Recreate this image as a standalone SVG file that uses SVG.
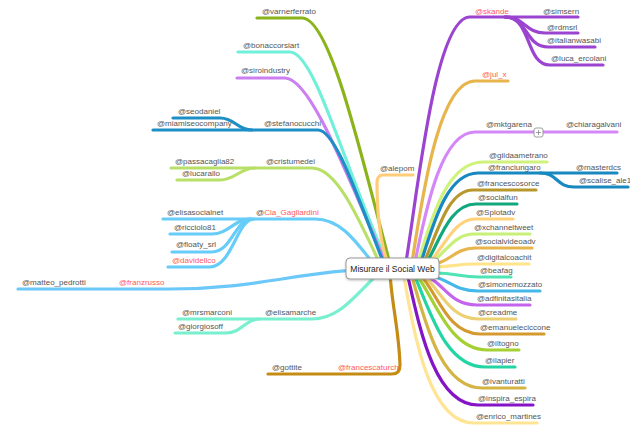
<svg xmlns="http://www.w3.org/2000/svg" width="630" height="432" viewBox="0 0 630 432">
<style>
.c{fill:none;stroke-width:3.2;stroke-linecap:round;stroke-linejoin:round}
text{font-family:"Liberation Sans",Arial,sans-serif;font-size:8px;fill:#555}
.r{fill:#ff5a5a}
.center{font-size:8.5px;fill:#222;text-anchor:middle}
</style>
<defs>
<filter id="sh" x="-10%" y="-20%" width="120%" height="150%"><feDropShadow dx="0" dy="1" stdDeviation="1" flood-color="#000" flood-opacity="0.25"/></filter>
</defs>
<rect width="630" height="432" fill="#fff"/>
<g id="connectors">
<path class="c" stroke="#8ab41a" d="M257 18H302C330 18 360 150 390 264"/>
<path class="c" stroke="#70f0d8" d="M238 52H290C315 52 345 170 388 264"/>
<path class="c" stroke="#cc7ff0" d="M237 78H285C310 78 345 170 386 264"/>
<path class="c" stroke="#1e8fc6" d="M153 130H318C335 130 355 190 384 264"/>
<path class="c" stroke="#1e8fc6" d="M173 118H220C235 118 237 130 252 130"/>
<path class="c" stroke="#b8e068" d="M171 168H312C335 168 355 210 380 264"/>
<path class="c" stroke="#b8e068" d="M177 180H220C235 180 240 168 255 168"/>
<path class="c" stroke="#66ccf8" d="M163 219H315C340 219 355 240 372 262"/>
<path class="c" stroke="#66ccf8" d="M170 234H212C228 234 235 219 250 219"/>
<path class="c" stroke="#66ccf8" d="M172 252H212C232 252 235 219 252 219"/>
<path class="c" stroke="#66ccf8" d="M168 267H210C232 267 237 219 254 219"/>
<path class="c" stroke="#6cc8f8" d="M18 289H170C260 289 300 270 392 268"/>
<path class="c" stroke="#78f0d0" d="M178 319H312C340 319 355 295 380 272"/>
<path class="c" stroke="#78f0d0" d="M175 333H226C242 333 245 319 260 319"/>
<path class="c" stroke="#c48c14" d="M268 374H392Q400 374 400 365C399 330 391 300 390 272"/>
<path class="c" stroke="#ffcc7a" d="M413 175H383Q377 175 377 183C377 225 383 250 388 264"/>
<path class="c" stroke="#9b44d0" d="M406 262C418 190 435 17 470 17H578"/>
<path class="c" stroke="#9b44d0" d="M505 17C525 17 525 33 545 33H578"/>
<path class="c" stroke="#9b44d0" d="M505 17C528 17 525 47 548 47H595"/>
<path class="c" stroke="#9b44d0" d="M505 17C532 17 525 65 550 65H603"/>
<path class="c" stroke="#e8b44c" d="M412 262C422 200 438 81 475 81H508"/>
<path class="c" stroke="#d488f8" d="M415 262C425 215 440 132 475 132H617"/>
<path class="c" stroke="#cef27a" d="M418 262C430 225 445 162 483 162H547"/>
<path class="c" stroke="#1888c0" d="M421 262C432 230 445 173 478 173H617"/>
<path class="c" stroke="#1888c0" d="M540 173C558 173 556 187 574 187H628"/>
<path class="c" stroke="#b8982c" d="M424 262C437 235 447 190 473 190H536"/>
<path class="c" stroke="#10a87c" d="M427 262C440 240 450 204 476 204H517"/>
<path class="c" stroke="#ffd27a" d="M430 262C445 245 455 219 475 219H513"/>
<path class="c" stroke="#c8f078" d="M432 262C448 250 455 234 474 234H530"/>
<path class="c" stroke="#e8b44c" d="M434 264C450 262 455 248 475 248H532"/>
<path class="c" stroke="#ffe48a" d="M436 267C455 266 460 264 475 264H529"/>
<path class="c" stroke="#4ee4b4" d="M436 273C455 273 460 277 479 277H511"/>
<path class="c" stroke="#44b8e8" d="M432 276C450 280 455 291 478 291H540"/>
<path class="c" stroke="#c464ec" d="M428 277C445 285 450 305 477 305H530"/>
<path class="c" stroke="#ecd074" d="M425 277C440 290 450 319 478 319H516"/>
<path class="c" stroke="#d49a30" d="M422 277C438 295 448 334 480 334H544"/>
<path class="c" stroke="#a4d034" d="M418 277C435 300 450 350 487 350H519"/>
<path class="c" stroke="#24d4a4" d="M415 277C430 310 445 367 485 367H515"/>
<path class="c" stroke="#d4b444" d="M412 277C425 320 440 388 482 388H525"/>
<path class="c" stroke="#8414c4" d="M408 277C420 330 435 405 478 405H533"/>
<path class="c" stroke="#ffe494" d="M404 277C415 340 430 423 474 423H537"/>
</g>
<g id="center">
<rect x="346" y="258" width="93" height="21" rx="4" fill="#fff" stroke="#999" filter="url(#sh)"/>
<text class="center" x="392.5" y="271.5">Misurare il Social Web</text>
</g>
<g id="collapse">
<rect x="534" y="128" width="9" height="9" rx="2" fill="#fff" stroke="#888" stroke-width="0.8"/>
<path d="M536 132.5H541M538.5 130V135" stroke="#888" stroke-width="0.8"/>
</g>
<g id="labels" transform="translate(0,-1)">
<g id="n-varnerferrato"><text x="262" y="15">@varnerferrato</text></g>
<g id="n-bonaccorsiart"><text x="243" y="49">@bonaccorsiart</text></g>
<g id="n-siroindustry"><text x="241" y="74">@siroindustry</text></g>
<g id="n-stefanocucchi"><text x="264" y="127">@stefanocucchi</text></g>
<g id="n-miamiseocompany"><text x="157" y="127">@miamiseocompany</text></g>
<g id="n-seodaniel"><text x="178" y="115">@seodaniel</text></g>
<g id="n-cristumedei"><text x="266" y="165">@cristumedei</text></g>
<g id="n-passacaglia82"><text x="175" y="165">@passacaglia82</text></g>
<g id="n-lucarallo"><text x="182" y="177">@lucarallo</text></g>
<g id="n-cla"><text x="256" y="216">@<tspan class="r">Cla_Gagliardini</tspan></text></g>
<g id="n-elisasocialnet"><text x="167" y="216">@elisasocialnet</text></g>
<g id="n-ricciolo81"><text x="174" y="231">@ricciolo81</text></g>
<g id="n-floaty"><text x="176" y="248">@floaty_srl</text></g>
<g id="n-davidelico"><text class="r" x="172" y="264">@davidelico</text></g>
<g id="n-matteo"><text x="22" y="286">@matteo_pedrotti</text></g>
<g id="n-franzrusso"><text class="r" x="119" y="286">@franzrusso</text></g>
<g id="n-elisamarche"><text x="265" y="316">@elisamarche</text></g>
<g id="n-mrsmarconi"><text x="182" y="316">@mrsmarconi</text></g>
<g id="n-giorgiosoff"><text x="178" y="330">@giorgiosoff</text></g>
<g id="n-gottite"><text x="272" y="371">@gottite</text></g>
<g id="n-francescaturchi"><text class="r" x="338" y="371">@francescaturchi</text></g>
<g id="n-alepom"><text x="380" y="172">@alepom</text></g>
<g id="n-skande"><text class="r" x="475" y="15">@skande</text></g>
<g id="n-simsern"><text x="543" y="15">@simsern</text></g>
<g id="n-rdmsrl"><text x="547" y="31">@rdmsrl</text></g>
<g id="n-italianwasabi"><text x="547" y="44">@italianwasabi</text></g>
<g id="n-luca"><text x="551" y="62">@luca_ercolani</text></g>
<g id="n-jul"><text class="r" x="482" y="78">@jul_x</text></g>
<g id="n-mktgarena"><text x="486" y="128">@mktgarena</text></g>
<g id="n-chiaragalvani"><text x="566" y="128">@chiaragalvani</text></g>
<g id="n-gildaametrano"><text x="489" y="159">@gildaametrano</text></g>
<g id="n-franciungaro"><text x="488" y="171">@franciungaro</text></g>
<g id="n-masterdcs"><text x="576" y="171">@masterdcs</text></g>
<g id="n-scalise"><text x="579" y="184">@scalise_ale1</text></g>
<g id="n-francescosorce"><text x="477" y="187">@francescosorce</text></g>
<g id="n-socialfun"><text x="478" y="201">@socialfun</text></g>
<g id="n-splotadv"><text x="476" y="216">@Splotadv</text></g>
<g id="n-xchanneltweet"><text x="474" y="231">@xchanneltweet</text></g>
<g id="n-socialvideoadv"><text x="475" y="245">@socialvideoadv</text></g>
<g id="n-digitalcoachit"><text x="477" y="261">@digitalcoachit</text></g>
<g id="n-beafag"><text x="480" y="274">@beafag</text></g>
<g id="n-simonemozzato"><text x="478" y="288">@simonemozzato</text></g>
<g id="n-adfinitasitalia"><text x="477" y="302">@adfinitasitalia</text></g>
<g id="n-creadme"><text x="478" y="316">@creadme</text></g>
<g id="n-emanueleciccone"><text x="480" y="331">@emanueleciccone</text></g>
<g id="n-iltogno"><text x="487" y="347">@iltogno</text></g>
<g id="n-ilapier"><text x="485" y="364">@ilapier</text></g>
<g id="n-ivanturatti"><text x="482" y="385">@ivanturatti</text></g>
<g id="n-inspira"><text x="478" y="402">@inspira_espira</text></g>
<g id="n-enrico"><text x="476" y="420">@enrico_martines</text></g>
</g>
</svg>
